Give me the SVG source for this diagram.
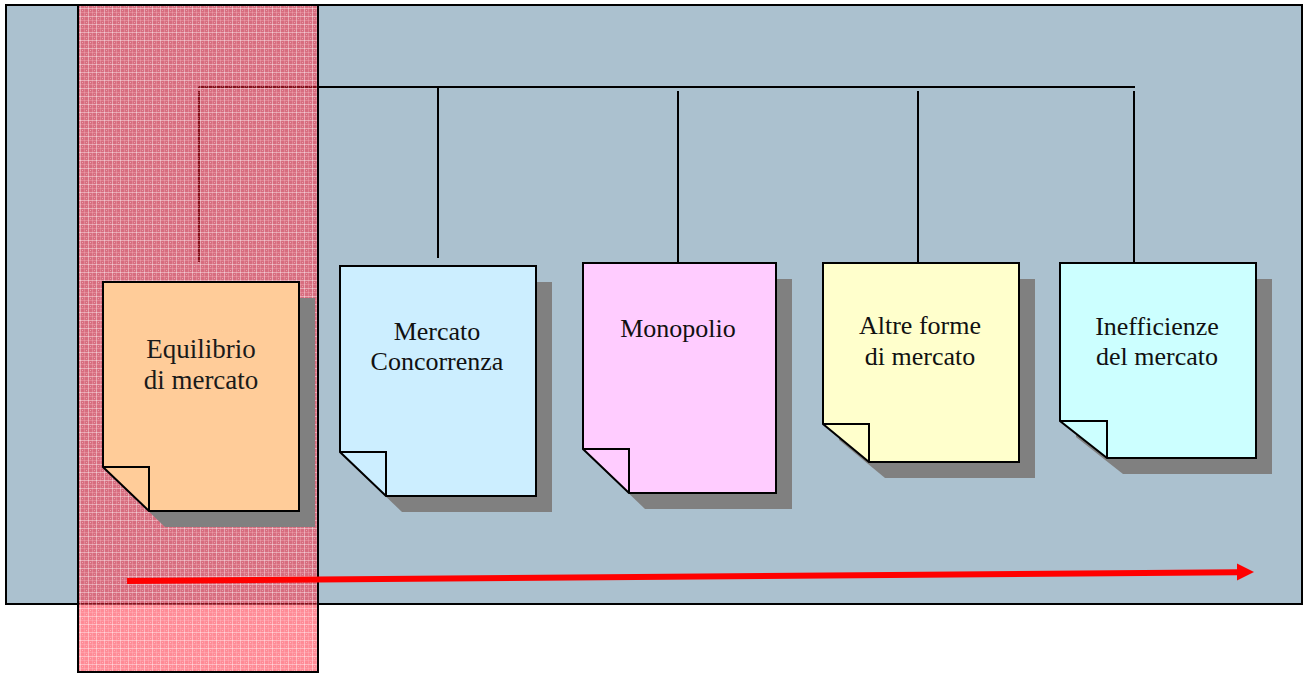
<svg xmlns="http://www.w3.org/2000/svg" width="1306" height="673" viewBox="0 0 1306 673">
  <defs>
    <!-- fine red check used for the highlighted column -->
    <pattern id="redCheck" width="8" height="8" patternUnits="userSpaceOnUse">
      <rect width="8" height="8" fill="#ff2035" fill-opacity="0.52"/>
      <rect x="0" y="0" width="8" height="1" fill="#ffffff" fill-opacity="0.4"/>
      <rect x="0" y="0" width="1" height="8" fill="#ffffff" fill-opacity="0.4"/>
      <rect x="4" y="0" width="1" height="8" fill="#ffd0d8" fill-opacity="0.25"/>
      <rect x="0" y="4" width="8" height="1" fill="#ffd0d8" fill-opacity="0.25"/>
      <rect x="2" y="2" width="1" height="1" fill="#ffffff" fill-opacity="0.35"/>
      <rect x="6" y="6" width="1" height="1" fill="#ffffff" fill-opacity="0.35"/>
    </pattern>
  </defs>
  <style>
    .panel { fill: #abc1cf; stroke: #000; stroke-width: 2; }
    .column { fill: url(#redCheck); stroke: #000; stroke-width: 2; }
    .conn { stroke: #000; stroke-width: 2; fill: none; }
    .shadow { fill: #808080; }
    .page { stroke: #000; stroke-width: 2; stroke-linejoin: miter; }
    .fold { fill: none; stroke: #000; stroke-width: 2; }
    .label { font-family: "Liberation Serif", "Times New Roman", serif; font-size: 26px; fill: #111; text-anchor: middle; }
    .label-g { font-family: "Liberation Serif", "Times New Roman", serif; font-size: 27px; fill: #1a1a1a; text-anchor: middle; }
    .flow { stroke: #ff0000; stroke-width: 6; fill: none; }
    .flow-head { fill: #ff0000; }
  </style>

  <!-- background panel -->
  <rect class="panel" x="6" y="5" width="1296" height="599"/>

  <!-- connectors -->
  <g id="connectors">
    <path class="conn" d="M198,87 H1135"/>
    <path class="conn" d="M199,91 V262"/>
    <path class="conn" d="M438,87 V258"/>
    <path class="conn" d="M678,91 V262"/>
    <path class="conn" d="M918,91 V262"/>
    <path class="conn" d="M1134,91 V262"/>
  </g>

  <!-- highlighted column -->
  <rect class="column" x="78" y="5" width="240" height="667"/>

  <!-- nodes: pages with a folded lower-left corner -->
  <g id="node-equilibrio">
    <path class="shadow" d="M119,298 H315 V527 H165 L119,483 Z"/>
    <path class="page" fill="#ffcc99" d="M103,282 H299 V511 H149 L103,467 Z"/>
    <path class="fold" d="M103,467 H149 V511"/>
    <text class="label-g" x="201" y="358">Equilibrio</text>
    <text class="label-g" x="201" y="389">di mercato</text>
  </g>

  <g id="node-concorrenza">
    <path class="shadow" d="M356,282 H552 V512 H402 L356,468 Z"/>
    <path class="page" fill="#cceeff" d="M340,266 H536 V496 H386 L340,452 Z"/>
    <path class="fold" d="M340,452 H386 V496"/>
    <text class="label" x="437" y="340">Mercato</text>
    <text class="label" x="437" y="370">Concorrenza</text>
  </g>

  <g id="node-monopolio">
    <path class="shadow" d="M599,279 H792 V509 H645 L599,465 Z"/>
    <path class="page" fill="#ffccff" d="M583,263 H776 V493 H629 L583,449 Z"/>
    <path class="fold" d="M583,449 H629 V493"/>
    <text class="label" x="678" y="337">Monopolio</text>
  </g>

  <g id="node-altre">
    <path class="shadow" d="M839,279 H1035 V478 H885 L839,440 Z"/>
    <path class="page" fill="#ffffcc" d="M823,263 H1019 V462 H869 L823,424 Z"/>
    <path class="fold" d="M823,424 H869 V462"/>
    <text class="label" x="920" y="334">Altre forme</text>
    <text class="label" x="920" y="365">di mercato</text>
  </g>

  <g id="node-inefficienze">
    <path class="shadow" d="M1076,279 H1272 V474 H1123 L1076,437 Z"/>
    <path class="page" fill="#ccffff" d="M1060,263 H1256 V458 H1107 L1060,421 Z"/>
    <path class="fold" d="M1060,421 H1107 V458"/>
    <text class="label" x="1157" y="335">Inefficienze</text>
    <text class="label" x="1157" y="365">del mercato</text>
  </g>

  <!-- progression arrow -->
  <g id="flow-arrow">
    <path class="flow" d="M127,581 L1238,572.2"/>
    <path class="flow-head" d="M1237,563.5 L1254,572 L1237,580.5 Z"/>
  </g>
</svg>
